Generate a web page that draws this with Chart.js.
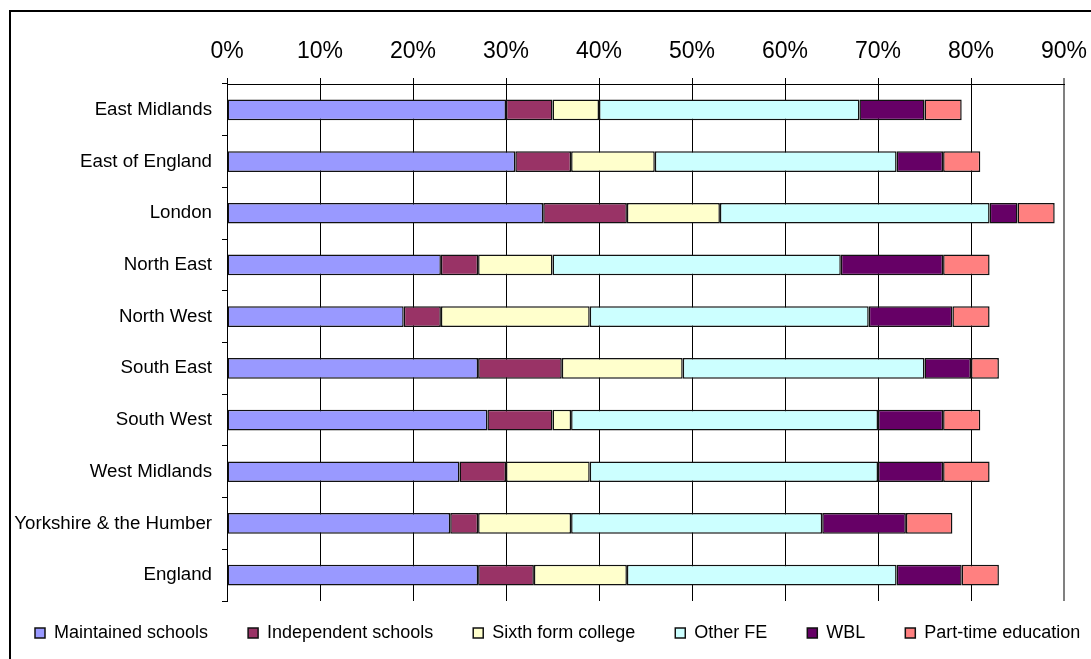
<!DOCTYPE html>
<html>
<head>
    <title>Destinations by region</title>
    <script src="https://cdn.jsdelivr.net/npm/chart.js"></script>
    <style>
        body {
            margin: 0;
            background: #fff;
        }
        .container {
            position: relative;
            width: 1091px;
            height: 659px;
            overflow: hidden;
        }
        .frame {
            position: absolute;
            left: 9px;
            top: 10px;
            width: 1200px;
            height: 800px;
            border-left: 2px solid #000;
            border-top: 2px solid #000;
        }
        #regionChart {
            position: absolute;
            left: 0;
            top: 0;
        }
    </style>
</head>
<body>
    <div class="container">
        <div class="frame"></div>
        <canvas id="regionChart" width="1091" height="659"></canvas>
    </div>

    <script>
        const regions = ['East Midlands', 'East of England', 'London', 'North East', 'North West',
            'South East', 'South West', 'West Midlands', 'Yorkshire & the Humber', 'England'];
        const xTicks = [0, 10, 20, 30, 40, 50, 60, 70, 80, 90];

        // percentages read per region, same order as regions
        const maintained = [30, 31, 34, 23, 19, 27, 28, 25, 24, 27];
        const independent = [5, 6, 9, 4, 4, 9, 7, 5, 3, 6];
        const sixthForm = [5, 9, 10, 8, 16, 13, 2, 9, 10, 10];
        const otherFE = [28, 26, 29, 31, 30, 26, 33, 31, 27, 29];
        const wbl = [7, 5, 3, 11, 9, 5, 7, 7, 9, 7];
        const partTime = [4, 4, 4, 5, 4, 3, 4, 5, 5, 4];

        const font = 'Liberation Sans, Arial, sans-serif';
        const legendGap = 40;

        function series(label, data, color) {
            return {
                label: label,
                data: data,
                backgroundColor: color,
                borderColor: '#111',
                borderWidth: 1.5,
                borderSkipped: false,
                barPercentage: 0.4,
                categoryPercentage: 1
            };
        }

        // legend: one row, wide gaps, only 58px taken from the chart height
        const legendPlace = {
            id: 'legendPlace',
            beforeLayout(chart) {
                const lg = chart.legend;
                if (lg._patched) return;
                lg._patched = true;
                const fit = lg.fit;
                lg.fit = function () {
                    this.maxWidth = 1400;
                    fit.call(this);
                    this.height = 58;
                };
            },
            afterLayout(chart) {
                const lg = chart.legend;
                const itemH = lg.legendHitBoxes.length ? lg.legendHitBoxes[0].height : 18;
                lg.top = 633 - legendGap - itemH / 2;
                lg.bottom = lg.top + 90;
                lg.right = 1300;
                lg.left = 2 * 35 - legendGap + lg.lineWidths[0] - lg.right;
                lg.width = lg.right - lg.left;
                lg.height = lg.bottom - lg.top;
            }
        };

        const ctx = document.getElementById('regionChart').getContext('2d');
        new Chart(ctx, {
            type: 'bar',
            data: {
                labels: regions,
                datasets: [
                    series('Maintained schools', maintained, '#9999FF'),
                    series('Independent schools', independent, '#993366'),
                    series('Sixth form college', sixthForm, '#FFFFCC'),
                    series('Other FE', otherFE, '#CCFFFF'),
                    series('WBL', wbl, '#660066'),
                    series('Part-time education', partTime, '#FF8080')
                ]
            },
            options: {
                indexAxis: 'y',
                responsive: false,
                animation: false,
                layout: {
                    padding: { left: 0, right: 27, top: 0, bottom: 0 }
                },
                plugins: {
                    tooltip: { enabled: false },
                    legend: {
                        position: 'bottom',
                        labels: {
                            color: '#000',
                            font: { family: font, size: 18 },
                            boxWidth: 10,
                            boxHeight: 10,
                            padding: legendGap
                        }
                    }
                },
                scales: {
                    x: {
                        position: 'top',
                        stacked: true,
                        min: 0,
                        max: 90,
                        afterBuildTicks: scale => {
                            scale.ticks = xTicks.map(v => ({ value: v }));
                        },
                        afterFit: scale => {
                            scale.height = 84;
                            scale.paddingLeft = 0;
                            scale.paddingRight = 0;
                        },
                        ticks: {
                            color: '#000',
                            padding: 13,
                            maxRotation: 0,
                            font: { family: font, size: 23 },
                            callback: v => v + '%'
                        },
                        grid: {
                            color: c => (c.tick && c.tick.value === 90) ? '#808080' : '#000',
                            lineWidth: c => (c.tick && c.tick.value === 90) ? 2 : 1,
                            tickLength: 6
                        },
                        border: { color: '#000', width: 1 }
                    },
                    y: {
                        stacked: true,
                        afterFit: scale => { scale.width = 227; },
                        ticks: {
                            color: '#000',
                            padding: 10,
                            font: { family: font, size: 18.7 }
                        },
                        grid: {
                            offset: true,
                            drawOnChartArea: false,
                            color: '#000',
                            tickLength: 5
                        },
                        border: { color: '#000', width: 1 }
                    }
                }
            },
            plugins: [legendPlace]
        });
    </script>
</body>
</html>
